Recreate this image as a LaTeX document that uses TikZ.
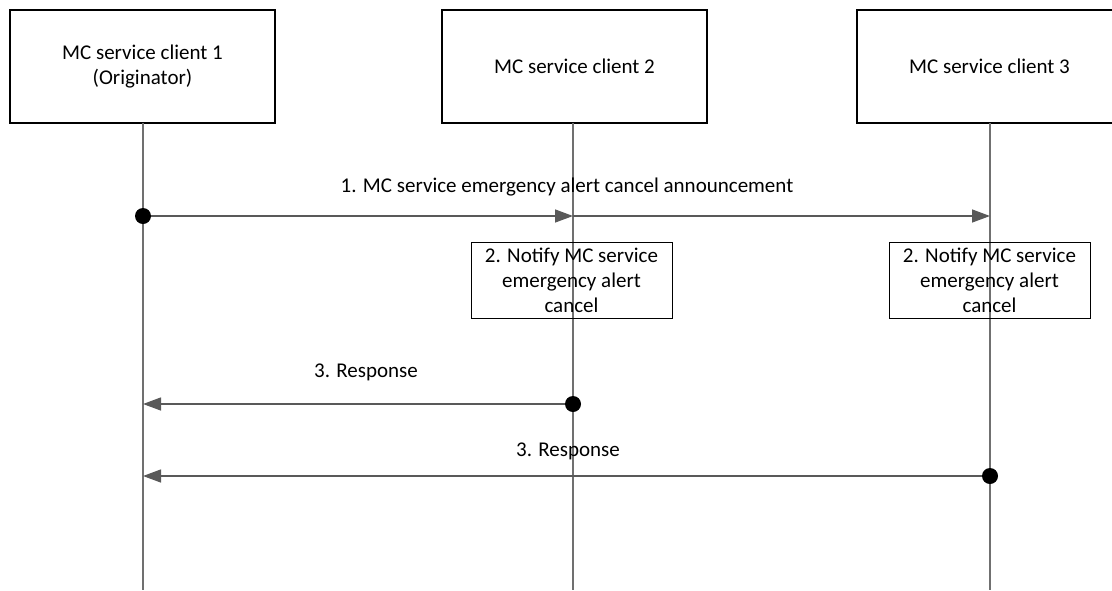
\documentclass[tikz,border=0pt]{standalone}
\usepackage{fontspec}
\setmainfont{Carlito}
\usetikzlibrary{arrows.meta}
\definecolor{lifegray}{HTML}{707070}
\definecolor{arrgray}{HTML}{595959}
\tikzset{
  entity/.style={draw=black, line width=2pt, minimum width=265pt, minimum height=113pt, inner sep=0pt, align=center, font=\fontsize{21}{25}\selectfont},
  action/.style={draw=black, line width=1pt, minimum width=201pt, minimum height=76pt, inner sep=0pt, align=center, font=\fontsize{21}{25}\selectfont},
  lifeline/.style={draw=lifegray, line width=1.3pt},
  msg/.style={draw=arrgray, line width=1.4pt, -{Triangle[length=18pt,width=13pt]}, fill=arrgray},
  dotmark/.style={circle, fill=black, inner sep=0pt, minimum size=16pt},
  lbl/.style={font=\fontsize{21}{25}\selectfont, inner sep=0pt}
}
\begin{document}
\begin{tikzpicture}[x=1pt,y=-1pt]
\useasboundingbox (0,0) rectangle (1112,590);
\clip (0,0) rectangle (1112,590);
% entities
\node[entity] (c1) at (142.5,66.5) {MC service client 1\\(Originator)};
\node[entity] (c2) at (574.5,66.5) {MC service client 2};
\node[entity] (c3) at (989.5,66.5) {MC service client 3};
% lifeline ends
\coordinate (e1) at (143,590);
\coordinate (e2) at (573,590);
\coordinate (e3) at (990,590);
\draw[lifeline] (143,123) coordinate (s1) -- (e1);
\draw[lifeline] (573,123) coordinate (s2) -- (e2);
\draw[lifeline] (990,123) coordinate (s3) -- (e3);
% points on lifelines
\coordinate (a1) at (143,216);
\coordinate (a2) at (573,216);
\coordinate (a3) at (990,216);
\coordinate (r2) at (573,404);
\coordinate (r1) at (143,404);
\coordinate (q3) at (990,476);
\coordinate (q1) at (143,476);
% action boxes
\node[action] (n2) at (571.5,280) {2. Notify MC service\\emergency alert\\cancel};
\node[action] (n3) at (989.5,280) {2. Notify MC service\\emergency alert\\cancel};
% message 1
\draw[msg] (a1) -- (a2);
\draw[msg] (a2) -- (a3);
\node[dotmark] (d1) at (a1) {};
\node[lbl] (l1) at (567,187) {1. MC service emergency alert cancel announcement};
% message 3 from client 2
\draw[msg] (r2) -- (r1);
\node[dotmark] (d2) at (r2) {};
\node[lbl] (l2) at (366,372) {3. Response};
% message 3 from client 3
\draw[msg] (q3) -- (q1);
\node[dotmark] (d3) at (q3) {};
\node[lbl] (l3) at (568,451) {3. Response};
\end{tikzpicture}
\end{document}
